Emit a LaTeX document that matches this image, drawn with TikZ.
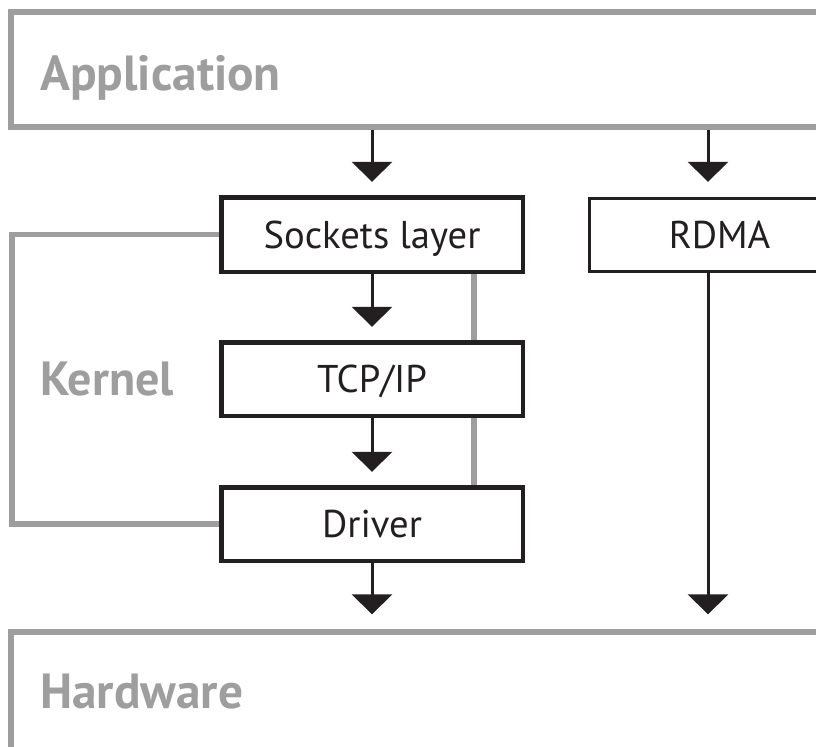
\documentclass[tikz,border=0pt]{standalone}
\usepackage{fontspec}
\setmainfont{PT Sans}
\usetikzlibrary{arrows.meta}
\definecolor{lgray}{HTML}{9E9E9E}
\definecolor{ink}{HTML}{231F20}
\tikzset{
  layer/.style={draw=lgray, line width=4.5pt, fill=white, inner sep=0pt},
  graylbl/.style={text=lgray, font=\bfseries\fontsize{37}{42}\selectfont, anchor=base west, inner sep=0pt},
  box/.style={draw=ink, line width=2.25pt, fill=white, inner sep=0pt, font=\fontsize{29}{34}\selectfont, text=ink, text height=20.3pt, text depth=0pt},
  arr/.style={draw=ink, line width=2.25pt, -{Triangle[width=30pt,length=15pt]}, shorten >=11pt},
  glink/.style={draw=lgray, line width=4pt}
}
\begin{document}
\begin{tikzpicture}[x=0.75pt,y=-0.75pt]
\useasboundingbox (0,0) rectangle (816,746);
\clip (0,0) rectangle (816,746);
\fill[white] (0,0) rectangle (816,746);
% layers
\node[layer, minimum width=819*0.75pt, minimum height=115*0.75pt] (app) at (420.5,69.5) {};
\node[layer, minimum width=819*0.75pt, minimum height=128*0.75pt] (hw) at (420.5,696) {};
\node[graylbl] (applbl) at (40,90) {Application};
\node[graylbl] (hwlbl) at (40,708) {Hardware};
% kernel bracket
\coordinate (kt) at (12,232);
\coordinate (kb) at (12,525);
\node[graylbl, font=\bfseries\fontsize{36}{40}\selectfont, anchor=base] (klbl) at (107,395) {Kernel};
% boxes
\node[box, minimum width=300*0.75pt, minimum height=73*0.75pt] (sock) at (372,234.5) {Sockets layer};
\node[box, minimum width=300*0.75pt, minimum height=72*0.75pt] (tcp) at (372,379) {TCP/IP};
\node[box, minimum width=300*0.75pt, minimum height=72*0.75pt] (drv) at (372,524) {Driver};
\node[box, minimum width=261*0.75pt, minimum height=73*0.75pt] (rdma) at (719.5,234.5) {RDMA};
% gray links
\draw[glink] (sock.west) -- (sock.west -| kt) -- (drv.west -| kb) -- (drv.west);
\draw[glink] (sock.south -| 474,0) -- (tcp.north -| 474,0);
\draw[glink] (tcp.south -| 474,0) -- (drv.north -| 474,0);
% redraw box borders over links
\foreach \n in {sock,tcp,drv}{\draw[ink, line width=2.25pt] (\n.south west) rectangle (\n.north east);}
% arrows
\draw[arr] (app.south -| sock.north) -- (sock.north);
\draw[arr] (app.south -| 708,0) -- (rdma.north -| 708,0);
\draw[arr] (sock.south) -- (tcp.north);
\draw[arr] (tcp.south) -- (drv.north);
\draw[arr] (drv.south) -- (hw.north -| drv.south);
\draw[arr] (rdma.south -| 708,0) -- (hw.north -| 708,0);
\end{tikzpicture}
\end{document}
